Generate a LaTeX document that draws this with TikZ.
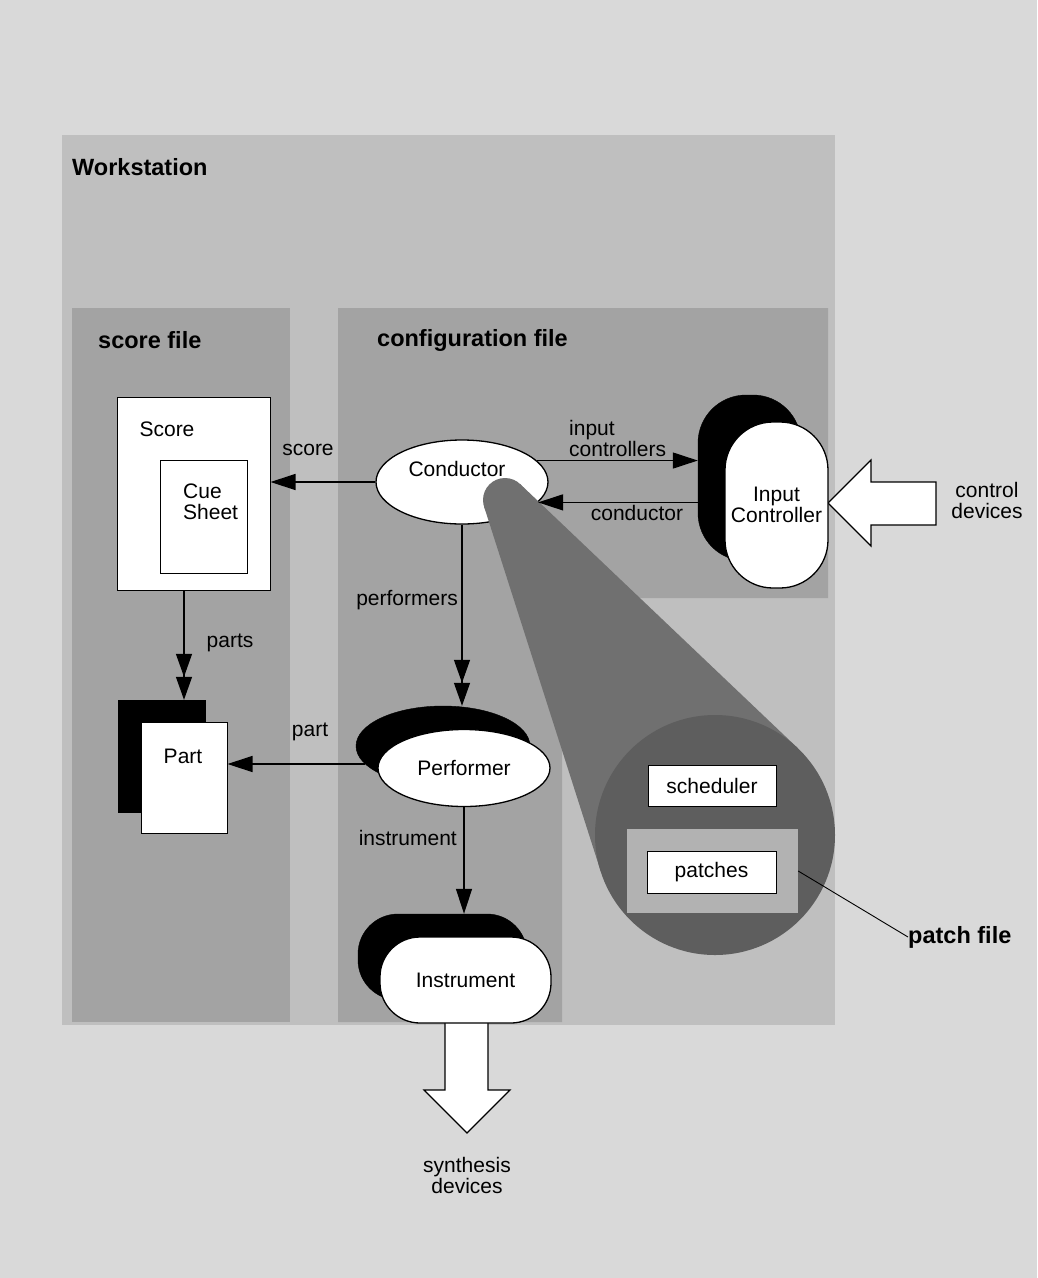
\documentclass[tikz,border=0pt]{standalone}
\usepackage{fontspec}
\setmainfont{Liberation Sans}
\usetikzlibrary{shapes.geometric,arrows.meta,calc}
\definecolor{bgc}{gray}{0.85}
\definecolor{wsc}{gray}{0.75}
\definecolor{panelc}{gray}{0.64}
\definecolor{tearc}{gray}{0.44}
\definecolor{tearc2}{gray}{0.37}
\definecolor{patchbgc}{gray}{0.70}
\begin{document}
\begin{tikzpicture}[x=1pt,y=-1pt,
  txt/.style={font=\fontsize{21}{21}\selectfont, inner sep=0pt},
  lbl/.style={font=\fontsize{23.5}{24}\selectfont\bfseries, inner sep=0pt},
  wbox/.style={draw=black, fill=white, line width=1.3pt, inner sep=0pt, font=\fontsize{21}{21}\selectfont},
  shadowbox/.style={fill=black, draw=black, inner sep=0pt},
  arr/.style={draw=black, line width=1.3pt, -{Triangle[length=25pt,width=16pt]}},
  arrtwo/.style={draw=black, line width=1.3pt, -{Triangle[length=23pt,width=16pt] Triangle[length=23pt,width=16pt]}},
  blockarr/.style={draw=black, fill=white, line width=1.2pt, line join=miter}
]
\useasboundingbox (0,0) rectangle (1037,1278);
% backgrounds
\fill[bgc] (0,0) rectangle (1037,1278);
\fill[wsc] (62,135) rectangle (835,1025);
\fill[panelc] (72,308) rectangle (290,1022);
\fill[panelc] (338,308) -- (828,308) -- (828,598) -- (562,598) -- (562,1022) -- (338,1022) -- cycle;

% titles
\node[lbl, anchor=west] (ws) at (72,167) {Workstation};
\node[lbl, anchor=west] (sf) at (98,340) {score file};
\node[lbl, anchor=west] (cf) at (377,340) {configuration file};

% conductor
\node[ellipse, wbox, minimum width=172pt, minimum height=84pt] (cond) at (462,482) {};

% patch-file teardrop
\fill[tearc] (484.1,506.7) -- (600.8,871.5) -- (797.7,748.1) -- (520.2,484.1) -- cycle;
\fill[tearc] (505,500) circle[radius=22pt];
\fill[tearc2] (715,835) circle[radius=120pt];
\node[txt] (condtext) at (457,469) {Conductor};

\node[fill=patchbgc, minimum width=171pt, minimum height=84pt, inner sep=0pt] (patchbg) at (712.5,871) {};
\node[wbox, line width=0.8pt, minimum width=128pt, minimum height=41pt] (sched) at (712,785.5) {scheduler};
\node[wbox, line width=0.8pt, minimum width=129pt, minimum height=42pt] (patches) at (711.5,872) {patches};
\node[lbl, anchor=west] (pf) at (908,937) {patch file};
\draw[line width=0.9pt] (patchbg.east) -- (pf.west);

% input controller
\draw[blockarr] (828,503) -- (871,460) -- (871,482) -- (936,482) -- (936,525) -- (871,525) -- (871,546) -- cycle;
\node[shadowbox, rounded corners=48pt, minimum width=103pt, minimum height=166pt] (icsh) at (749.5,478) {};
\node[wbox, rounded corners=48pt, minimum width=103pt, minimum height=166pt, align=center] (ic) at (776.5,505) {Input\\Controller};
\node[txt, align=center] (cdev) at (987,500) {control\\devices};

% score
\node[wbox, line width=1pt, minimum width=153pt, minimum height=193pt] (score) at (193.5,493.5) {};
\node[txt] (scoretext) at (167,429) {Score};
\node[wbox, line width=0.9pt, minimum width=87pt, minimum height=113pt] (cue) at (203.5,516.5) {};
\node[txt, anchor=west, align=left] (cuetext) at (183,502) {Cue\\Sheet};

% part
\node[shadowbox, minimum width=87pt, minimum height=112pt] (partsh) at (161.5,756) {};
\node[wbox, line width=1pt, minimum width=86pt, minimum height=111pt] (part) at (184,777.5) {};
\node[txt] (parttext) at (183,756) {Part};

% performer
\node[ellipse, shadowbox, minimum width=174pt, minimum height=80pt] (perfsh) at (443,746) {};
\node[ellipse, wbox, minimum width=172pt, minimum height=77pt] (perf) at (464,768) {Performer};

% instrument
\draw[blockarr] (445,1015) -- (445,1090) -- (424,1090) -- (467,1133) -- (510,1090) -- (488,1090) -- (488,1015) -- cycle;
\node[shadowbox, rounded corners=40pt, minimum width=169pt, minimum height=86pt] (instsh) at (442.5,957) {};
\node[wbox, rounded corners=40pt, minimum width=171pt, minimum height=86pt] (inst) at (465.5,980) {Instrument};
\node[txt, align=center] (synth) at (467,1175) {synthesis\\devices};

% connectors
\draw[arr] (cond.west) -- (cond.west -| score.east);
\node[txt] (lscore) at (308,450) {score};

\draw[arr] (cond.16) -- (cond.16 -| icsh.west);
\node[txt, anchor=west, align=left] (linc) at (569,438) {input\\controllers};

\draw[arr] (cond.-15 -| icsh.west) -- (cond.-15);
\node[txt] (lcond) at (637,513) {conductor};

\draw[arrtwo] (cond.south) -- (cond.south |- perfsh.north);
\node[txt, anchor=east] (lperfs) at (458,600) {performers};

\draw[arrtwo] (part.north |- score.south) -- (part.north |- partsh.north);
\node[txt] (lparts) at (230,643) {parts};

\draw[arr] (perfsh.193) -- (perfsh.193 -| part.east);
\node[txt] (lpart) at (310,732) {part};

\draw[arr] (perf.south) -- (perf.south |- instsh.north);
\node[txt, anchor=east] (linst) at (457,838) {instrument};
\end{tikzpicture}
\end{document}
